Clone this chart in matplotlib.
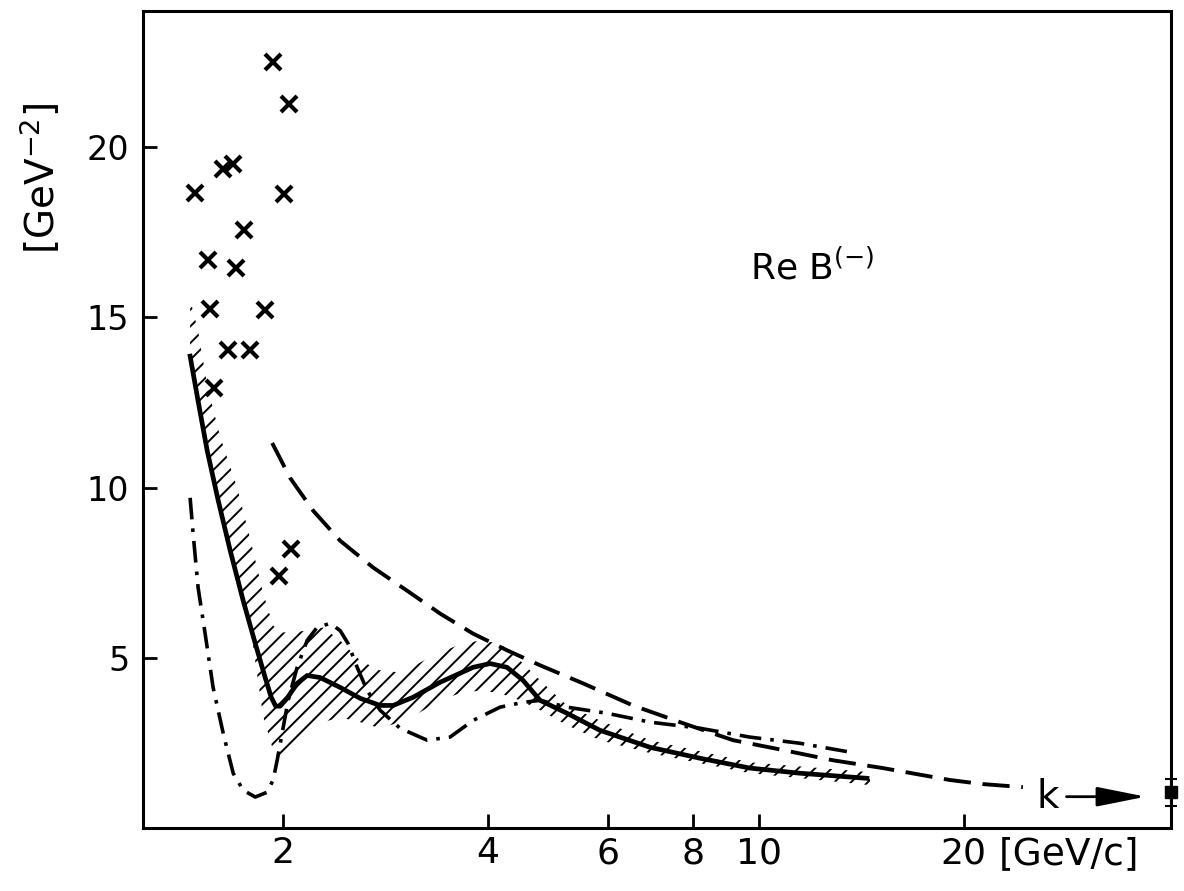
import matplotlib
matplotlib.use("Agg")
import matplotlib.pyplot as plt

# x: momentum [GeV/c] (log axis), y: Re B(-) [GeV^-2]
cross_x = [1.485, 1.552, 1.561, 1.584, 1.633, 1.689, 1.661, 1.706, 1.753, 1.789,
           1.882, 1.933, 2.041, 2.007, 1.973, 2.055]
cross_y = [18.66, 16.67, 15.24, 12.92, 19.37, 19.51, 14.03, 16.44, 17.58, 14.03,
           15.21, 22.50, 21.27, 18.63, 7.41, 8.20]

sol_x = [1.460, 1.500, 1.547, 1.606, 1.672, 1.747, 1.820, 1.882, 1.920, 1.950,
         1.980, 2.027, 2.097, 2.169, 2.266, 2.425, 2.595, 2.776, 2.901, 3.104,
         3.400, 3.802, 4.027, 4.265, 4.501, 4.769, 5.224, 5.84, 6.92, 8.19,
         9.70, 11.48, 14.41]
sol_y = [13.86, 12.54, 11.08, 9.61, 8.15, 6.68, 5.42, 4.42, 3.85, 3.58,
         3.58, 3.81, 4.25, 4.48, 4.42, 4.13, 3.81, 3.60, 3.60, 3.84,
         4.28, 4.72, 4.83, 4.72, 4.34, 3.75, 3.37, 2.87, 2.37, 2.05,
         1.76, 1.61, 1.46]

dash_x = [1.927, 2.048, 2.214, 2.425, 2.712, 3.042, 3.400, 3.802, 4.265, 4.769,
          5.513, 6.53, 7.73, 9.16, 10.85, 12.84, 15.21, 19.08, 21.33, 24.42]
dash_y = [11.31, 10.28, 9.32, 8.44, 7.65, 6.97, 6.30, 5.71, 5.22, 4.78,
          4.25, 3.60, 3.08, 2.58, 2.29, 1.99, 1.76, 1.41, 1.29, 1.20]

dd_x = [1.460, 1.475, 1.500, 1.536, 1.578, 1.633, 1.689, 1.747, 1.820, 1.894,
        1.933, 1.960, 1.993, 2.034, 2.097, 2.169, 2.243, 2.344, 2.425, 2.491,
        2.569, 2.657, 2.776, 2.970, 3.254, 3.517, 3.802, 4.166, 4.501, 4.769,
        5.224, 5.98, 6.92, 8.19, 9.70, 11.48, 13.6]
dd_y = [9.70, 8.64, 7.06, 5.71, 4.13, 2.78, 1.61, 1.11, 0.91, 1.05,
        1.41, 1.99, 2.78, 3.75, 4.72, 5.51, 5.89, 6.01, 5.80, 5.42,
        4.72, 4.04, 3.46, 2.93, 2.58, 2.67, 3.16, 3.55, 3.69, 3.75,
        3.55, 3.37, 3.11, 2.93, 2.67, 2.49, 2.23]

band_x = [1.460, 1.500, 1.547, 1.616, 1.712, 1.789, 1.869, 1.933, 1.980, 2.048,
          2.169, 2.289, 2.425, 2.595, 2.776, 2.970, 3.178, 3.400, 3.638, 3.894,
          4.166, 4.457, 4.769, 5.224, 5.84, 6.92, 9.70, 14.56]
band_lo = [13.86, 12.54, 11.08, 9.38, 7.35, 5.95, 3.28, 2.29, 1.93, 2.34,
           2.78, 3.11, 3.25, 3.11, 2.93, 3.11, 3.40, 3.75, 3.96, 4.04,
           3.96, 3.75, 3.46, 3.02, 2.58, 2.20, 1.61, 1.26]
band_hi = [15.53, 14.60, 13.00, 11.50, 10.00, 8.50, 6.90, 5.95, 5.75, 5.74,
           5.80, 5.89, 5.51, 4.92, 4.63, 4.57, 4.86, 5.16, 5.39, 5.51,
           5.42, 4.92, 4.34, 3.60, 3.16, 2.58, 1.93, 1.64]

k_x, k_y, k_err = 40.3, 1.05, 0.4

xticks = [2, 4, 6, 8, 10, 20]
xlabels = ["2", "4", "6", "8", "10", "20"]
yticks = [5, 10, 15, 20]


def main():
    plt.rcParams["hatch.linewidth"] = 1.4
    plt.rcParams["mathtext.fontset"] = "dejavusans"

    fig = plt.figure(figsize=(11.84, 8.91), dpi=100)
    ax = fig.add_axes([0.1208, 0.0707, 0.8682, 0.917])
    ax.set_xscale("log")
    ax.set_xlim(1.245, 40.3)
    ax.set_ylim(0, 24)

    # error band around the solid curve
    ax.fill_between(band_x, band_lo, band_hi, facecolor="none",
                    edgecolor="black", hatch="//", linewidth=0)
    ax.plot(sol_x, sol_y, color="black", lw=3.4, solid_joinstyle="round")
    ax.plot(dash_x, dash_y, color="black", lw=2.8, linestyle=(0, (7, 3)))
    ax.plot(dd_x, dd_y, color="black", lw=2.6,
            linestyle=(0, (6, 2.5, 1, 2.5)))
    ax.plot(cross_x, cross_y, "x", color="black", ms=12, mew=3)

    eb = ax.errorbar([k_x], [k_y], yerr=k_err, fmt="s", ms=8, color="black",
                     capsize=4, elinewidth=1.5, capthick=1.5)
    for art in eb.get_children():
        art.set_clip_on(False)

    ax.text(26.6, 0.9, "k", fontsize=28, ha="center", va="center")
    ax.annotate("", xy=(37.0, 0.92), xytext=(28.3, 0.92),
                arrowprops=dict(arrowstyle="-|>,head_length=1.5,head_width=0.3",
                                mutation_scale=20, lw=2, color="black",
                                shrinkA=0, shrinkB=0))

    ax.text(0.651, 0.685, r"Re B$^{(-)}$", transform=ax.transAxes,
            fontsize=26, ha="center", va="center")

    ax.set_xticks(xticks)
    ax.set_xticklabels(xlabels)
    ax.minorticks_off()
    ax.set_yticks(yticks)
    ax.tick_params(direction="in", length=10, width=2, top=False, right=False)
    ax.tick_params(axis="x", labelsize=26, pad=6)
    ax.tick_params(axis="y", labelsize=24, pad=10)
    for sp in ax.spines.values():
        sp.set_linewidth(2.2)

    ax.text(0.832, -0.0098, "[GeV/c]", transform=ax.transAxes, fontsize=27,
            ha="left", va="top")
    fig.text(0.034, 0.80, r"[GeV$^{-2}$]", rotation=90, fontsize=28,
             ha="center", va="center")

    fig.savefig("out.png", dpi=100)


if __name__ == "__main__":
    main()
